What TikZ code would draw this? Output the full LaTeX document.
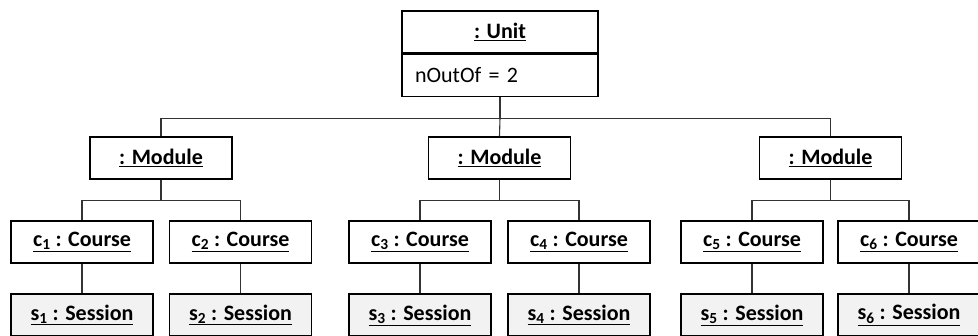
\documentclass[tikz,border=0pt]{standalone}
\usepackage{fontspec}
\setmainfont{Carlito}
\usetikzlibrary{positioning,calc}
\tikzset{
  objbox/.style={draw=black, line width=1.4pt, fill=white, minimum width=142pt, minimum height=42pt,
    inner sep=0pt, font=\fontsize{22}{26}\selectfont\bfseries},
  unitbox/.style={objbox, minimum width=196pt},
  attrbox/.style={draw=black, line width=1.4pt, fill=white, minimum width=196pt, minimum height=42pt,
    inner sep=0pt, text width=170pt, align=left, font=\fontsize{22}{26}\selectfont},
  sessbox/.style={objbox, fill=black!5},
  link/.style={draw=black!80, line width=1.1pt}
}
\begin{document}
\begin{tikzpicture}[x=1pt,y=-1pt]
				\useasboundingbox (0,0) rectangle (978,336);
				
				% unit
				\node[unitbox] (unit) at (500,32) {\underline{: Unit}};
				\node[attrbox, below=0pt of unit] (unitattr) {nOutOf = 2};
				
				% modules
				\node[objbox] (modA) at (161,158) {\underline{: Module}};
				\node[objbox] (modB) at (499.5,158) {\underline{: Module}};
				\node[objbox] (modC) at (830.5,158) {\underline{: Module}};
				
				% courses
				\node[objbox] (crs1) at (82,242) {\underline{c\textsubscript{1} : Course}};
				\node[objbox] (crs2) at (240.5,242) {\underline{c\textsubscript{2} : Course}};
				\node[objbox] (crs3) at (420,242) {\underline{c\textsubscript{3} : Course}};
				\node[objbox] (crs4) at (579,242) {\underline{c\textsubscript{4} : Course}};
				\node[objbox] (crs5) at (752,242) {\underline{c\textsubscript{5} : Course}};
				\node[objbox] (crs6) at (909,242) {\underline{c\textsubscript{6} : Course}};
				
				% sessions
				\node[sessbox] (ses1) at (82,315) {\underline{s\textsubscript{1} : Session}};
				\node[sessbox] (ses2) at (240.5,315) {\underline{s\textsubscript{2} : Session}};
				\node[sessbox] (ses3) at (420,315) {\underline{s\textsubscript{3} : Session}};
				\node[sessbox] (ses4) at (579,315) {\underline{s\textsubscript{4} : Session}};
				\node[sessbox] (ses5) at (752,315) {\underline{s\textsubscript{5} : Session}};
				\node[sessbox] (ses6) at (909,315) {\underline{s\textsubscript{6} : Session}};
				
				% unit to modules
				\coordinate (busU) at ($(unitattr.south)+(0,21)$);
				\draw[link] (unitattr.south) -- (busU) -| (modA.north);
				\draw[link] (busU) -| (modC.north);
				\draw[link] (busU) -- (modB.north);
				
				% modules to courses
				\draw[link] (modA.south) -- ++(0,21) -| (crs1.north);
				\draw[link] (modA.south) -- ++(0,21) -| (crs2.north);
				\draw[link] (modB.south) -- ++(0,21) -| (crs3.north);
				\draw[link] (modB.south) -- ++(0,21) -| (crs4.north);
				\draw[link] (modC.south) -- ++(0,21) -| (crs5.north);
				\draw[link] (modC.south) -- ++(0,21) -| (crs6.north);
				
				% courses to sessions
				\draw[link] (crs1) -- (ses1);
				\draw[link] (crs2) -- (ses2);
				\draw[link] (crs3) -- (ses3);
				\draw[link] (crs4) -- (ses4);
				\draw[link] (crs5) -- (ses5);
				\draw[link] (crs6) -- (ses6);
			\end{tikzpicture}
\end{document}
